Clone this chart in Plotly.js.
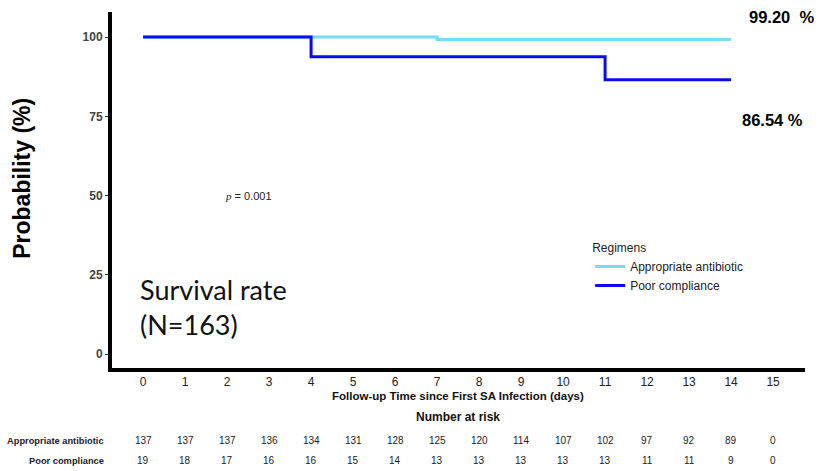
<!DOCTYPE html>
<html><head><meta charset="utf-8">
<script src="https://cdn.plot.ly/plotly-3.0.1.min.js"></script>
<style>html,body{margin:0;padding:0;background:#fff}</style>
</head><body><div id="chart" style="width:819px;height:471px"></div>
<script>
var days = [0,1,2,3,4,5,6,7,8,9,10,11,12,13,14,15];
var apprTime = [0,7,14];
var apprSurv = [100,99.2,99.2];
var poorTime = [0,4,11,14];
var poorSurv = [100,93.75,86.54,86.54];
var riskAppr = [137,137,137,136,134,131,128,125,120,114,107,102,97,92,89,0];
var riskPoor = [19,18,17,16,16,15,14,13,13,13,13,13,11,11,9,0];
var groupNames = ['Appropriate antibiotic','Poor compliance'];
var colors = ['#73DDF2','#0A0AF5'];
var sans = 'Arial, "Liberation Sans", sans-serif';

var traces = [
 {x: apprTime, y: apprSurv, mode:'lines', line:{shape:'hv', color:colors[0], width:3}, name:groupNames[0]},
 {x: poorTime, y: poorSurv, mode:'lines', line:{shape:'hv', color:colors[1], width:3}, name:groupNames[1]}
];

var ann = [];
var rows = [riskAppr, riskPoor];
var rowY = [-0.205, -0.261];
rows.forEach(function(r, i){
  ann.push({xref:'paper', yref:'paper', x:-0.008, y:rowY[i], xanchor:'right', yanchor:'middle', showarrow:false,
    text:'<b>'+groupNames[i]+'</b>', font:{family:sans, size:9.3, color:'#222'}});
  r.forEach(function(v, j){
    ann.push({xref:'x', yref:'paper', x:days[j], y:rowY[i], xanchor:'center', yanchor:'middle', showarrow:false,
      text:String(v), font:{family:sans, size:10, color:'#222'}});
  });
});
ann.push({xref:'paper', yref:'paper', x:0.499, y:-0.138, xanchor:'center', yanchor:'middle', showarrow:false,
  text:'<b>Number at risk</b>', font:{family:sans, size:12, color:'#111'}});
ann.push({xref:'paper', yref:'paper', x:0.499, y:-0.078, xanchor:'center', yanchor:'middle', showarrow:false,
  text:'<b>Follow-up Time since First SA Infection (days)</b>', font:{family:sans, size:11.5, color:'#111'}});
ann.push({xref:'x', yref:'y', x:15.2, y:106.3, xanchor:'center', yanchor:'middle', showarrow:false,
  text:'<b>'+apprSurv[apprSurv.length-1].toFixed(2)+'&nbsp; %</b>', font:{family:sans, size:16.5, color:'#000'}});
ann.push({xref:'x', yref:'y', x:14.98, y:73.8, xanchor:'center', yanchor:'middle', showarrow:false,
  text:'<b>'+poorSurv[poorSurv.length-1].toFixed(2)+' %</b>', font:{family:sans, size:16.5, color:'#000'}});
ann.push({xref:'x', yref:'y', x:2.5, y:50, xanchor:'center', yanchor:'middle', showarrow:false,
  text:'<i style="font-family:serif">p</i> = 0.001', font:{family:sans, size:11, color:'#222'}});
ann.push({xref:'x', yref:'y', x:-0.12, y:15.0, xanchor:'left', yanchor:'middle', showarrow:false, align:'left',
  text:'Survival rate<br>(N=163)', font:{family:'Lato, "Open Sans", sans-serif', size:27, color:'#111'}});
ann.push({xref:'paper', yref:'paper', x:-0.13, y:0.534, xanchor:'center', yanchor:'middle', showarrow:false, textangle:-90,
  text:'<b>Probability (%)</b>', font:{family:sans, size:23, color:'#000'}});

var layout = {
  width:819, height:471,
  margin:{l:112, r:14, t:12, b:103},
  paper_bgcolor:'#fff', plot_bgcolor:'#fff',
  showlegend:true,
  legend:{x:0.69, y:0.37, xanchor:'left', yanchor:'top', bgcolor:'rgba(0,0,0,0)',
    title:{text:'Regimens', font:{family:sans, size:12, color:'#222'}},
    font:{family:sans, size:12, color:'#222'}, tracegroupgap:0, itemwidth:30},
  xaxis:{range:[-0.74,15.76], tickvals:days, ticktext:days.map(String), ticks:'', showgrid:false, zeroline:false,
    showline:true, linecolor:'#000', linewidth:4, tickfont:{family:sans, size:12, color:'#222'}},
  yaxis:{range:[-4.4,107.9], tickvals:[0,25,50,75,100], ticks:'outside', ticklen:3, tickcolor:'#333', showgrid:false, zeroline:false,
    showline:true, linecolor:'#000', linewidth:4, tickfont:{family:sans, size:12, color:'#444', weight:'bold'}},
  annotations: ann
};
Plotly.newPlot('chart', traces, layout, {displayModeBar:false, staticPlot:true});
</script>
</body></html>
